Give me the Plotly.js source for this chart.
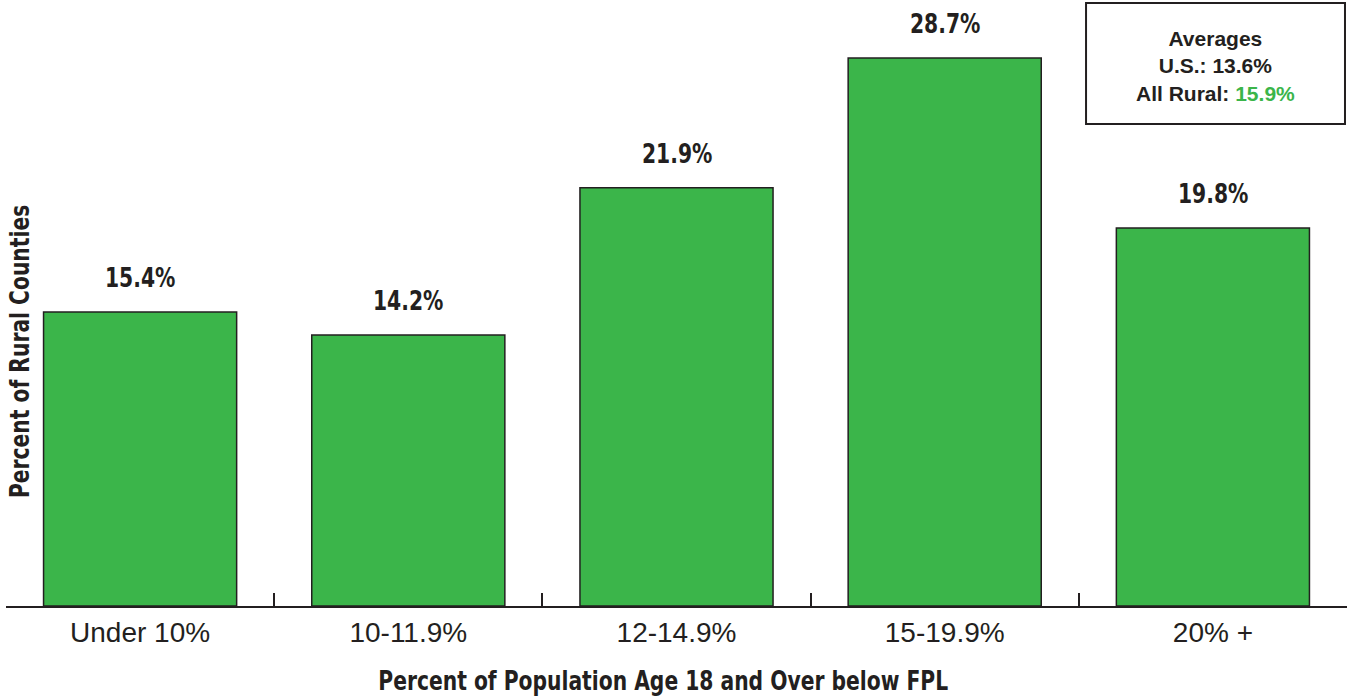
<!DOCTYPE html>
<html>
<head>
<meta charset="utf-8">
<script src="https://cdn.plot.ly/plotly-3.0.1.min.js"></script>
<style>html,body{margin:0;padding:0;background:#fff;}#chart{width:1347px;height:700px;}</style>
</head>
<body>
<div id="chart"></div>
<script>
const categories = ["Under 10%", "10-11.9%", "12-14.9%", "15-19.9%", "20% +"];
const values = [15.4, 14.2, 21.9, 28.7, 19.8];
const valueLabels = ["15.4%", "14.2%", "21.9%", "28.7%", "19.8%"];
const usAverage = "13.6%";
const ruralAverage = "15.9%";
const xTitle = "Percent of Population Age 18 and Over below FPL";
const yTitle = "Percent of Rural Counties";

const green = "#3bb54a";
const ink = "#231f20";
const condensed = "'DejaVu Sans Condensed', 'Liberation Sans Narrow', 'Arial Narrow', sans-serif";
const regular = "'Liberation Sans', Arial, Helvetica, sans-serif";

const trace = {
  type: "bar",
  x: categories,
  y: values,
  marker: {color: green, line: {color: ink, width: 1.5}},
  hoverinfo: "skip"
};

const annotations = categories.map((c, i) => ({
  x: c, y: values[i], xref: "x", yref: "y",
  text: "<b>" + valueLabels[i] + "</b>",
  showarrow: false, yanchor: "bottom", yshift: 17,
  font: {family: condensed, size: 27, color: ink}
}));

annotations.push({
  xref: "paper", yref: "paper", x: 0, y: 0.419, xshift: 13,
  xanchor: "center", yanchor: "middle", textangle: -90,
  text: "<b>" + yTitle + "</b>", showarrow: false,
  font: {family: condensed, size: 27, color: ink}
});

annotations.push({
  xref: "paper", yref: "paper", x: 0.4899, y: 0, yshift: -57,
  xanchor: "center", yanchor: "top",
  text: "<b>" + xTitle + "</b>", showarrow: false,
  font: {family: condensed, size: 27, color: ink}
});

annotations.push({
  xref: "paper", yref: "paper", x: 0.902, y: 0.891,
  xanchor: "center", yanchor: "middle",
  text: "<b>Averages<br>U.S.: " + usAverage + "<br>All Rural: <span style='color:" + green + "'>" + ruralAverage + "</span></b>",
  showarrow: false, align: "center",
  font: {family: regular, size: 21, color: ink}
});

const shapes = [{
  type: "rect", xref: "paper", yref: "paper",
  x0: 0.8054, x1: 0.9985, y0: 0.7954, y1: 0.995,
  line: {color: ink, width: 2}, fillcolor: "rgba(255,255,255,0)"
}];

const layout = {
  width: 1347, height: 700,
  margin: {l: 6, r: 0, t: 0, b: 94},
  paper_bgcolor: "#fff", plot_bgcolor: "#fff",
  bargap: 0.28,
  showlegend: false,
  xaxis: {
    type: "category",
    range: [-0.5, 4.5],
    showline: true, linecolor: ink, linewidth: 2,
    ticks: "inside", tickson: "boundaries", ticklen: 13, tickwidth: 2, tickcolor: ink,
    tickfont: {family: regular, size: 28, color: ink},
    showgrid: false, zeroline: false, fixedrange: true
  },
  yaxis: {
    range: [0, 31.74],
    showticklabels: false, showgrid: false, zeroline: false, showline: false, ticks: "",
    fixedrange: true
  },
  shapes: shapes,
  annotations: annotations
};

function condense(gd) {
  const factor = 0.835;
  gd.querySelectorAll('.annotation-text').forEach(t => {
    const src = t.getAttribute('data-unformatted') || '';
    if (src.indexOf('Averages') !== -1) return;
    const w = t.getComputedTextLength();
    t.setAttribute('textLength', (w * factor).toFixed(1));
    t.setAttribute('lengthAdjust', 'spacingAndGlyphs');
  });
}

Plotly.newPlot("chart", [trace], layout, {displayModeBar: false, staticPlot: true})
  .then(gd => condense(gd));
</script>
</body>
</html>
